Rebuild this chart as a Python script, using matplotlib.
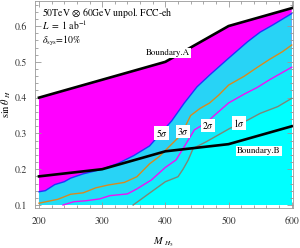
import matplotlib
matplotlib.use("Agg")
import matplotlib.pyplot as plt
from matplotlib.ticker import MultipleLocator

plt.rcParams['font.family'] = ['STIXGeneral', 'DejaVu Serif']
plt.rcParams['mathtext.fontset'] = 'stix'

# Boundary lines
mA = [200, 300, 400, 500, 600]
sA = [0.40, 0.45, 0.50, 0.60, 0.65]
mB = [200, 300, 400, 500, 600]
sB = [0.18, 0.20, 0.25, 0.27, 0.32]

# significance contours
m5 = [200, 210, 225, 240, 250, 270, 300, 325, 350, 375, 385, 410, 430, 450, 470, 500, 530, 550, 570, 600]
s5 = [0.137, 0.14, 0.157, 0.165, 0.175, 0.187, 0.2, 0.216, 0.238, 0.265, 0.285, 0.335, 0.385, 0.43, 0.463,
      0.51, 0.556, 0.583, 0.603, 0.635]
m3 = [200, 230, 250, 270, 290, 310, 335, 355, 375, 390, 410, 425, 440, 455, 470, 485, 500, 525, 545, 565, 585, 600]
s3 = [0.105, 0.116, 0.13, 0.134, 0.148, 0.156, 0.163, 0.179, 0.215, 0.235, 0.27, 0.296, 0.35, 0.37, 0.385,
      0.408, 0.435, 0.46, 0.484, 0.507, 0.528, 0.547]
m2 = [238, 255, 275, 296, 312, 340, 355, 378, 400, 417, 433, 446, 465, 478, 500, 525, 545, 565, 583, 600]
s2 = [0.1, 0.109, 0.112, 0.117, 0.126, 0.131, 0.145, 0.17, 0.205, 0.226, 0.272, 0.31, 0.33, 0.351, 0.385,
      0.41, 0.428, 0.45, 0.468, 0.485]
m1 = [349, 360, 378, 400, 420, 428, 436, 444, 465, 502, 530, 550, 578, 600]
s1 = [0.1, 0.114, 0.137, 0.165, 0.179, 0.2, 0.225, 0.258, 0.277, 0.314, 0.337, 0.356, 0.375, 0.398]

contours = [(m5, s5, '#1f35ff', '#28d3f6', r'$5\sigma$', 394, 0.300),
            (m3, s3, '#d88a20', '#20def7', r'$3\sigma$', 428, 0.305),
            (m2, s2, '#f010f5', '#12ecfa', r'$2\sigma$', 467, 0.323),
            (m1, s1, '#7f8677', '#00ffff', r'$1\sigma$', 517, 0.328)]

fig = plt.figure(figsize=(3.0, 2.48), dpi=100)
ax = fig.add_axes([35 / 300, 40 / 248, 258 / 300, 207 / 248])

# magenta region below boundary A, then contour bands on top
ax.fill(mA + [600, 200], sA + [0.1, 0.1], color='#ff00ff', lw=0)
for m, s, lc, fc, lab, lx, ly in contours:
    xs = list(m) + [600, m[0]]
    ys = list(s) + [0.1, 0.1]
    ax.fill(xs, ys, color=fc, lw=0)
for m, s, lc, fc, lab, lx, ly in contours:
    ax.plot(m, s, color=lc, lw=1.0)

ax.plot(mA, sA, color='black', lw=1.9)
ax.plot(mB, sB, color='black', lw=1.9)

box = dict(facecolor='white', edgecolor='none', pad=0.8)
for m, s, lc, fc, lab, lx, ly in contours:
    ax.text(lx, ly, lab, fontsize=7, ha='center', va='center', bbox=box)
ax.text(404, 0.525, 'Boundary.A', fontsize=6.5, ha='center', va='center', bbox=box)
ax.text(548, 0.251, 'Boundary.B', fontsize=6.5, ha='center', va='center', bbox=box)

ax.text(205, 0.637, r'50TeV $\otimes$ 60GeV unpol. FCC-eh', fontsize=7, va='center')
ax.text(205, 0.601, r'$L\ =\ 1\ \mathrm{ab}^{-1}$', fontsize=7, va='center')
ax.text(205, 0.557, r'$\delta_{\mathrm{sys}}$=10%', fontsize=7, va='center')

ax.set_xlim(193.7, 602)
ax.set_ylim(0.0916, 0.67)
ax.xaxis.set_major_locator(MultipleLocator(100))
ax.xaxis.set_minor_locator(MultipleLocator(20))
ax.yaxis.set_major_locator(MultipleLocator(0.1))
ax.yaxis.set_minor_locator(MultipleLocator(0.02))
ax.tick_params(which='both', direction='in', top=True, right=True, colors='#999999',
               labelcolor='#333333', labelsize=7, width=0.6)
ax.tick_params(which='major', length=4, pad=6)
ax.tick_params(which='minor', length=2)
for sp in ax.spines.values():
    sp.set_color('#999999')
    sp.set_linewidth(0.6)

ax.set_xlabel(r'$M\ _{H_5}$', fontsize=7.5, labelpad=7)
ax.set_ylabel(r'$\sin\theta_{\ H}$', fontsize=7.5)
ax.yaxis.set_label_coords(-0.085, 0.5)

fig.savefig('out.png', dpi=100)
